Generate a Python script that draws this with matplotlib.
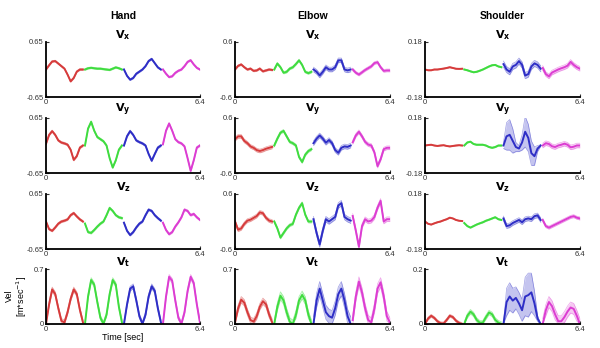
import matplotlib
matplotlib.use("Agg")
import matplotlib.pyplot as plt
import numpy as np

# segment timing (four movement repetitions, colour coded)
SEG_START = [0.0, 1.62, 3.24, 4.86]
LOCAL_T = [0.0, 0.128, 0.256, 0.384, 0.512, 0.64, 0.768, 0.896, 1.024, 1.152, 1.28, 1.408, 1.536]
SEG_COLORS = ["#d63b3b", "#3fdc3f", "#2e2ec6", "#dc3dd2"]

JOINTS = ["Hand", "Elbow", "Shoulder"]
COMPONENTS = ["x", "y", "z", "t"]
YMAX = {"Hand": [0.65, 0.65, 0.65, 0.7],
        "Elbow": [0.6, 0.6, 0.6, 0.7],
        "Shoulder": [0.18, 0.18, 0.18, 0.2]}
YTICKLABELS = {"Hand": ["-0.65", "0.65"], "Elbow": ["-0.6", "0.6"], "Shoulder": ["-0.18", "0.18"]}
VT_TICKLABELS = {"Hand": ["0", "0.7"], "Elbow": ["0", "0.7"], "Shoulder": ["0", "0.2"]}

# ---- Hand ----
HAND_VX = [[0, 0.1, 0.19, 0.2, 0.14, 0.08, 0.02, -0.12, -0.28, -0.2, -0.05, 0.0, 0.0],
           [0.0, 0.03, 0.04, 0.03, 0.02, 0.02, 0.01, 0.0, -0.01, 0.02, 0.05, 0.03, 0.0],
           [0.0, -0.15, -0.24, -0.2, -0.1, -0.05, 0.0, 0.08, 0.2, 0.25, 0.15, 0.05, 0.0],
           [0.0, -0.1, -0.18, -0.16, -0.08, -0.03, 0.0, 0.08, 0.18, 0.22, 0.12, 0.04, 0.0]]
HAND_VY = [[0.04, 0.25, 0.34, 0.25, 0.12, 0.07, 0.05, 0.02, -0.1, -0.34, -0.25, -0.05, 0.0],
           [0.0, 0.4, 0.56, 0.35, 0.2, 0.15, 0.1, 0.0, -0.3, -0.52, -0.35, -0.1, 0.0],
           [0.0, 0.22, 0.34, 0.25, 0.12, 0.08, 0.05, 0.0, -0.2, -0.36, -0.2, -0.05, 0.0],
           [0.03, 0.35, 0.52, 0.35, 0.15, 0.08, 0.05, -0.02, -0.3, -0.6, -0.35, -0.05, 0.0]]
HAND_VZ = [[0.0, -0.18, -0.22, -0.14, -0.05, 0.0, 0.02, 0.05, 0.15, 0.2, 0.12, 0.05, 0.0],
           [-0.05, -0.25, -0.27, -0.2, -0.12, -0.05, 0.0, 0.15, 0.32, 0.25, 0.15, 0.1, 0.08],
           [-0.03, -0.22, -0.32, -0.25, -0.14, -0.05, 0.0, 0.15, 0.28, 0.25, 0.15, 0.08, 0.02],
           [-0.03, -0.2, -0.3, -0.25, -0.12, -0.02, 0.1, 0.28, 0.25, 0.15, 0.18, 0.1, 0.04]]
HAND_VT = [[0.0, 0.25, 0.44, 0.38, 0.2, 0.04, 0.02, 0.15, 0.32, 0.44, 0.38, 0.18, 0.02],
           [0.0, 0.35, 0.56, 0.5, 0.28, 0.08, 0.0, 0.12, 0.38, 0.56, 0.5, 0.22, 0.02],
           [0.0, 0.25, 0.45, 0.48, 0.3, 0.1, 0.0, 0.12, 0.35, 0.48, 0.42, 0.2, 0.02],
           [0.0, 0.35, 0.6, 0.55, 0.3, 0.08, 0.0, 0.15, 0.42, 0.6, 0.52, 0.25, 0.02]]
HAND_SD = [[0.02] * 4, [0.025] * 4, [0.025] * 4, [0.03] * 4]

# ---- Elbow ----
ELBOW_VX = [[0.0, 0.08, 0.11, 0.05, 0.0, 0.02, -0.03, -0.02, 0.02, -0.04, -0.02, 0.0, -0.01],
            [0.0, 0.13, 0.05, -0.07, -0.05, 0.02, 0.05, 0.12, 0.2, 0.1, -0.05, -0.08, -0.05],
            [0.0, -0.05, -0.13, -0.05, 0.05, 0.0, 0.0, 0.05, 0.2, 0.2, 0.0, -0.02, 0.0],
            [0.0, -0.07, -0.11, -0.06, -0.01, 0.03, 0.07, 0.14, 0.16, 0.05, -0.03, -0.02, -0.02]]
ELBOW_VY = [[0.14, 0.2, 0.2, 0.1, 0.05, -0.02, -0.05, -0.1, -0.12, -0.1, -0.07, -0.05, -0.03],
            [0.0, 0.15, 0.28, 0.32, 0.2, 0.08, 0.05, 0.0, -0.25, -0.36, -0.2, -0.12, -0.08],
            [0.05, 0.15, 0.22, 0.15, 0.06, 0.12, 0.05, -0.1, -0.16, -0.05, -0.02, -0.03, 0.0],
            [0.07, 0.22, 0.3, 0.2, 0.08, 0.02, 0.0, -0.15, -0.45, -0.3, -0.08, -0.05, -0.05]]
ELBOW_VZ = [[0.0, -0.18, -0.15, -0.05, 0.02, 0.04, 0.08, 0.12, 0.2, 0.18, 0.08, 0.02, 0.0],
            [0.0, -0.15, -0.35, -0.25, -0.15, -0.08, -0.05, 0.15, 0.3, 0.4, 0.15, 0.0, 0.0],
            [0.05, -0.25, -0.5, -0.2, 0.05, 0.0, 0.05, 0.1, 0.35, 0.4, 0.1, 0.05, 0.02],
            [0.12, -0.2, -0.55, -0.1, 0.05, 0.0, 0.02, 0.1, 0.3, 0.45, 0.0, 0.05, 0.05]]
ELBOW_VT = [[0.02, 0.2, 0.31, 0.27, 0.15, 0.05, 0.03, 0.1, 0.22, 0.29, 0.25, 0.12, 0.02],
            [0.0, 0.22, 0.36, 0.3, 0.15, 0.03, 0.0, 0.12, 0.3, 0.37, 0.3, 0.12, 0.0],
            [0.0, 0.3, 0.45, 0.3, 0.15, 0.1, 0.08, 0.2, 0.38, 0.45, 0.3, 0.1, 0.0],
            [0.05, 0.35, 0.54, 0.4, 0.2, 0.05, 0.02, 0.2, 0.45, 0.53, 0.35, 0.1, 0.02]]
ELBOW_SD = [[0.02, 0.025, 0.05, 0.03],
            [0.04, 0.03, 0.05, 0.04],
            [0.04, 0.03, 0.06, 0.05],
            [0.04, 0.05, 0.09, 0.06]]

# ---- Shoulder ----
SHOULDER_VX = [[0.0, -0.005, -0.005, 0.0, 0.0, 0.003, 0.006, 0.01, 0.015, 0.01, 0.005, 0.004, 0.005],
               [0.0, -0.005, -0.012, -0.018, -0.015, -0.008, 0.0, 0.01, 0.02, 0.028, 0.03, 0.02, 0.015],
               [0.035, 0.0, -0.015, 0.02, 0.03, 0.055, 0.03, -0.04, -0.03, 0.02, 0.04, 0.03, 0.005],
               [0.01, -0.03, -0.045, -0.02, -0.01, 0.0, 0.008, 0.015, 0.025, 0.05, 0.03, 0.015, 0.005]]
SHOULDER_VY = [[0.0, 0.003, 0.005, 0.0, -0.003, 0.0, 0.002, -0.003, -0.006, -0.003, 0.0, 0.002, 0.0],
               [0.0, 0.02, 0.025, 0.01, 0.005, 0.005, 0.005, 0.0, -0.01, -0.015, -0.01, 0.0, 0.0],
               [0.0, 0.06, 0.07, 0.03, -0.01, -0.02, 0.02, 0.09, 0.05, -0.05, -0.07, -0.02, 0.0],
               [0.0, 0.015, 0.01, -0.005, -0.01, 0.0, 0.005, 0.012, 0.005, -0.012, -0.008, 0.0, 0.0]]
SHOULDER_VZ = [[0.0, -0.015, -0.02, -0.012, -0.005, 0.0, 0.008, 0.015, 0.025, 0.02, 0.01, 0.005, 0.003],
               [-0.01, -0.03, -0.04, -0.03, -0.02, -0.012, -0.005, 0.005, 0.012, 0.02, 0.028, 0.015, 0.01],
               [0.02, -0.03, -0.025, -0.01, 0.0, 0.01, -0.005, 0.015, 0.02, 0.015, 0.035, 0.04, 0.01],
               [0.01, -0.03, -0.04, -0.03, -0.02, -0.01, 0.0, 0.01, 0.02, 0.03, 0.035, 0.025, 0.02]]
SHOULDER_VT = [[0.0, 0.02, 0.03, 0.022, 0.01, 0.003, 0.002, 0.015, 0.03, 0.025, 0.012, 0.004, 0.0],
               [0.0, 0.03, 0.045, 0.035, 0.015, 0.005, 0.005, 0.025, 0.042, 0.035, 0.015, 0.005, 0.0],
               [0.0, 0.08, 0.1, 0.085, 0.095, 0.075, 0.05, 0.1, 0.105, 0.115, 0.075, 0.02, 0.0],
               [0.0, 0.05, 0.08, 0.065, 0.035, 0.01, 0.01, 0.025, 0.045, 0.06, 0.055, 0.03, 0.0]]
SHOULDER_SD = [[0.003, 0.004, 0.02, 0.015],
               [0.003, 0.004, [0.02, 0.09, 0.1, 0.08, 0.03, 0.02, 0.05, 0.1, 0.09, 0.08, 0.06, 0.02, 0.005], 0.015],
               [0.003, 0.004, 0.015, 0.01],
               [0.005, 0.008, [0.0, 0.05, 0.05, 0.045, 0.04, 0.04, 0.04, 0.07, 0.08, 0.07, 0.045, 0.01, 0.0], 0.02]]

DATA = {"Hand": ([HAND_VX, HAND_VY, HAND_VZ, HAND_VT], HAND_SD),
        "Elbow": ([ELBOW_VX, ELBOW_VY, ELBOW_VZ, ELBOW_VT], ELBOW_SD),
        "Shoulder": ([SHOULDER_VX, SHOULDER_VY, SHOULDER_VZ, SHOULDER_VT], SHOULDER_SD)}

fig = plt.figure(figsize=(6, 3.48), dpi=100)
plt.rcParams["font.family"] = ["Liberation Sans", "DejaVu Sans"]

col_left = [46, 235, 425]
col_width = [154, 155, 155]
row_top = [42, 118, 194, 269]
H = 55
W_PX, H_PX = 600, 348

local_t = np.array(LOCAL_T)
for c, joint in enumerate(JOINTS):
    series, sds = DATA[joint]
    fig.text((col_left[c] + col_width[c] / 2) / W_PX, 1 - 16 / H_PX, joint,
             ha="center", va="center", fontsize=7.5, fontweight="bold")
    for r, comp in enumerate(COMPONENTS):
        ax = fig.add_axes([col_left[c] / W_PX, 1 - (row_top[r] + H) / H_PX,
                           col_width[c] / W_PX, H / H_PX])
        for s in range(4):
            t = SEG_START[s] + local_t
            m = np.array(series[r][s])
            sd = np.array(sds[r][s], dtype=float) * np.ones_like(m)
            lo, hi = m - sd, m + sd
            if comp == "t":
                lo = np.clip(lo, 0, None)
            col = SEG_COLORS[s]
            ax.fill_between(t, lo, hi, color=col, alpha=0.28, lw=0)
            ax.plot(t, lo, color=col, alpha=0.45, lw=0.5)
            ax.plot(t, hi, color=col, alpha=0.45, lw=0.5)
            ax.plot(t, m, color=col, lw=1.4)
        ymax = YMAX[joint][r]
        ax.set_xlim(0, 6.4)
        if comp == "t":
            ax.set_ylim(0, ymax)
            ax.set_yticks([0, ymax])
            ax.set_yticklabels(VT_TICKLABELS[joint])
        else:
            ax.set_ylim(-ymax, ymax)
            ax.set_yticks([-ymax, ymax])
            ax.set_yticklabels(YTICKLABELS[joint])
        ax.set_xticks([0, 6.4])
        ax.set_xticklabels(["0", "6.4"])
        for side in ["top", "right"]:
            ax.spines[side].set_visible(False)
        for side in ["left", "bottom"]:
            ax.spines[side].set_linewidth(1.3)
        ax.tick_params(direction="in", length=2, width=0.8, labelsize=5.5, pad=1.5, colors="#333333")
        ax.set_title(r"$\mathbf{V_%s}$" % comp, fontsize=8, pad=1)
        ax.patch.set_alpha(0)

fig.text(17 / W_PX, 1 - 296 / H_PX, "Vel\n[m*sec$^{-1}$]", rotation=90,
         ha="center", va="center", fontsize=6.5, linespacing=1.0)
fig.text(123 / W_PX, 1 - 338 / H_PX, "Time [sec]", ha="center", va="center", fontsize=6.5)

fig.savefig("out.png", dpi=100)
